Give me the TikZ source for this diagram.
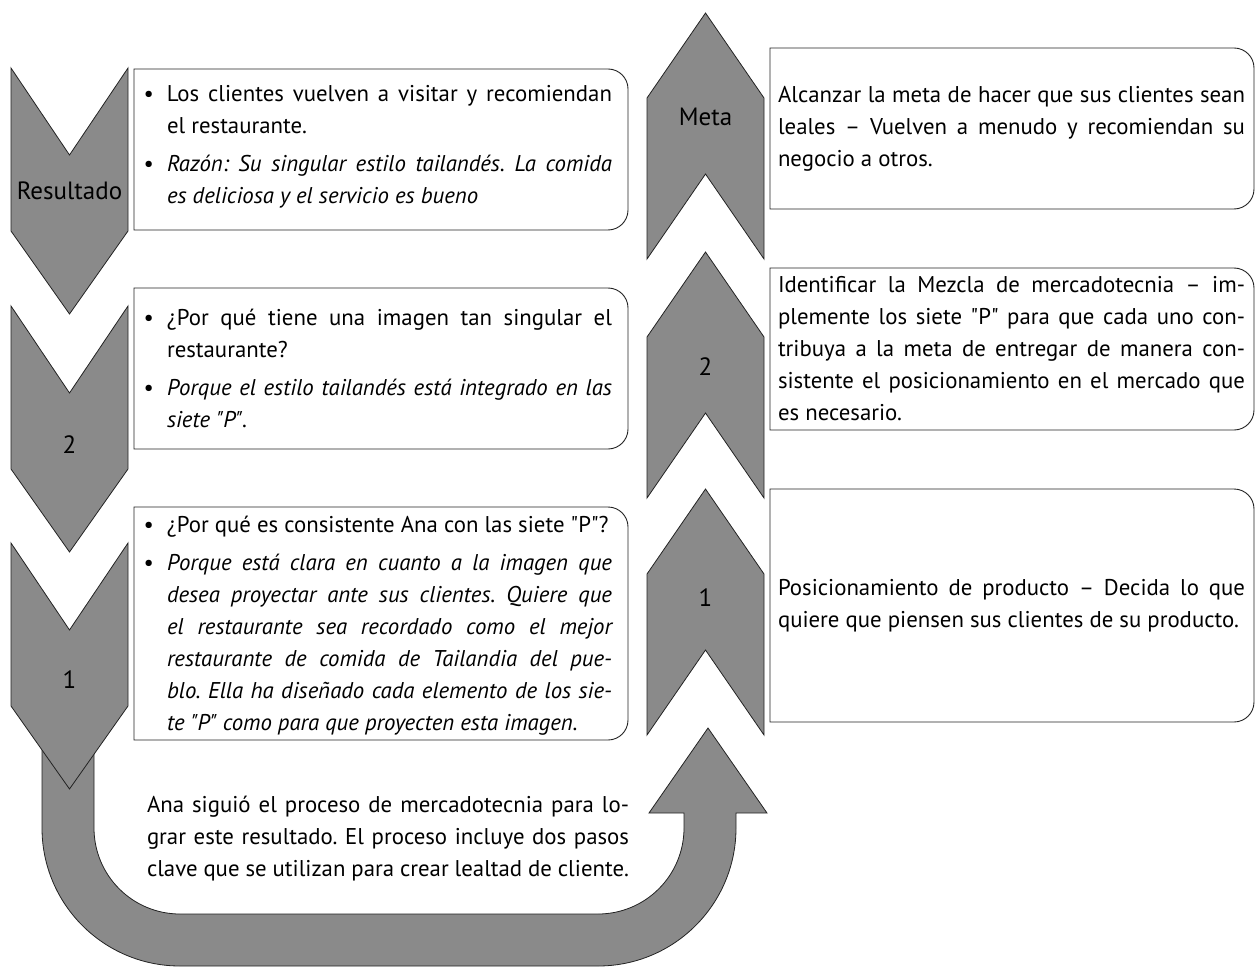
\documentclass[tikz,border=0pt]{standalone}
\usepackage{fontspec}
\setmainfont{PT Sans}
\definecolor{chevgray}{RGB}{138,138,138}
\definecolor{edge}{RGB}{35,35,35}
\newcommand\bl{\leavevmode\llap{\textbullet\hspace{13pt}}}
\newcommand\qq{\textquotedbl}
\newcommand\rbox[4]{\draw[boxline] (#1,#2) -- ({#3-20},#2) arc[start angle=-90,end angle=0,radius=20] -- (#3,{#4-20}) arc[start angle=0,end angle=90,radius=20] -- (#1,#4) -- cycle;}
\tikzset{
  chev/.style={fill=chevgray,draw=edge,line width=0.8pt,line join=miter},
  boxline/.style={draw=edge,line width=0.9pt,fill=white},
  txt/.style={inner sep=0pt,align=justify,font=\fontsize{22.8}{32}\selectfont\frenchspacing\setlength{\parskip}{6pt}},
  ltext/.style={txt,text width=445pt},
  rtext/.style={txt,text width=467pt},
  lab/.style={inner sep=0pt,font=\fontsize{25}{28}\selectfont}
}
\begin{document}
\begin{tikzpicture}[x=1pt,y=-1pt]
\useasboundingbox (0,0) rectangle (1255,968);
% U arrow
\draw[chev] (42,740) -- (42,828) arc[start angle=180,end angle=90,radius=138]
  -- (598,966) arc[start angle=90,end angle=0,radius=138]
  -- (736,813) -- (767,813) -- (708,728) -- (649,813) -- (684,813) -- (684,828)
  arc[start angle=0,end angle=90,radius=86] -- (180,914)
  arc[start angle=90,end angle=180,radius=86] -- (94,740) -- cycle;
% left chevrons (down)
\foreach \T in {68,306,543}{
  \draw[chev] (11,\T) -- (69.5,{\T+87}) -- (128,\T) -- (128,{\T+163}) -- (69.5,{\T+246}) -- (11,{\T+163}) -- cycle;
}
% right chevrons (up)
\foreach \t in {13,252,489}{
  \draw[chev] (705.5,\t) -- (764,{\t+85}) -- (764,{\t+246}) -- (705.5,{\t+161}) -- (647,{\t+246}) -- (647,{\t+85}) -- cycle;
}
% labels
\node[lab] (lr) at (69.5,191) {Resultado};
\node[lab] (l2) at (69.5,445) {2};
\node[lab] (l1) at (69.5,680) {1};
\node[lab] (rm) at (705.5,117) {Meta};
\node[lab] (r2) at (705.5,367) {2};
\node[lab] (r1) at (705.5,598) {1};
% boxes
\rbox{134}{69}{628}{230}
\rbox{134}{288}{628}{449}
\rbox{134}{507}{628}{740}
\rbox{770}{48}{1254}{209}
\rbox{770}{268}{1254}{430}
\rbox{770}{489}{1254}{722}
% texts
\node[ltext] (t1) at (389.5,147) {\bl Los clientes vuelven a visitar y recomiendan\linebreak el restaurante.\par
\bl\textit{Razón: Su singular estilo tailandés. La comida\linebreak es deliciosa y el servicio es bueno}};
\node[ltext] (t2) at (389.5,368) {\bl ¿Por qué tiene una imagen tan singular el\linebreak restaurante?\par
\bl\textit{Porque el estilo tailandés está integrado en las\linebreak siete \qq P\qq.}};
\node[ltext] (t3) at (389.5,626) {\bl ¿Por qué es consistente Ana con las siete \qq P\qq?\par
\bl\textit{Porque está clara en cuanto a la imagen que\linebreak desea proyectar ante sus clientes. Quiere que\linebreak el restaurante sea recordado como el mejor\linebreak restaurante de comida de Tailandia del pue-\linebreak blo. Ella ha diseñado cada elemento de los sie-\linebreak te \qq P\qq{} como para que proyecten esta imagen.}};
\node[txt,text width=482pt] (tb) at (388,839) {Ana siguió el proceso de mercadotecnia para lo-\linebreak grar este resultado. El proceso incluye dos pasos\linebreak clave que se utilizan para crear lealtad de cliente.};
\node[rtext] (ta) at (1011.5,129) {Alcanzar la meta de hacer que sus clientes sean\linebreak leales – Vuelven a menudo y recomiendan su\linebreak negocio a otros.};
\node[rtext] (tbb) at (1011.5,349) {Identificar la Mezcla de mercadotecnia – im-\linebreak plemente los siete \qq P\qq{} para que cada uno con-\linebreak tribuya a la meta de entregar de manera con-\linebreak sistente el posicionamiento en el mercado que\linebreak es necesario.};
\node[rtext] (tc) at (1011.5,606) {Posicionamiento de producto – Decida lo que\linebreak quiere que piensen sus clientes de su producto.};
\end{tikzpicture}
\end{document}
